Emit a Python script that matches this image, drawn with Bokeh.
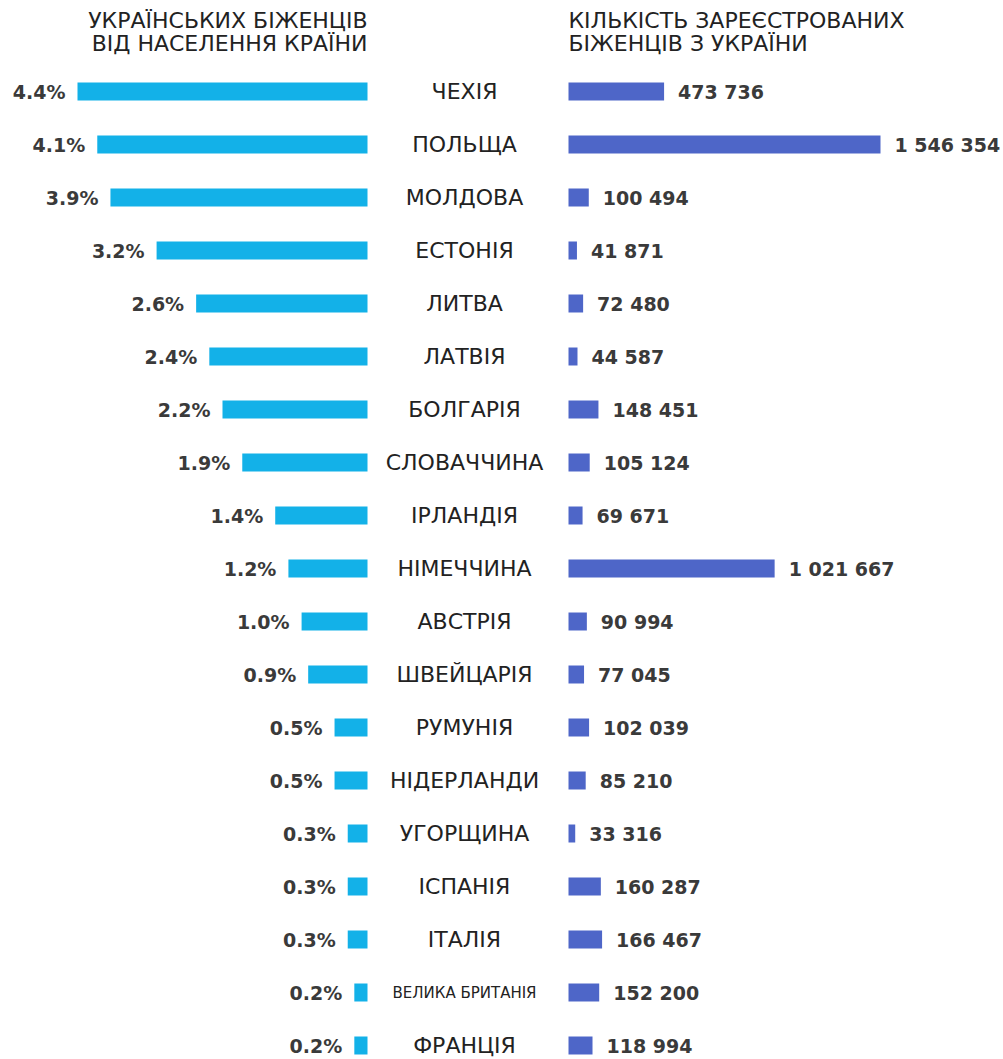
from bokeh.plotting import figure
from bokeh.models import Range1d, ColumnDataSource, Label
from bokeh.core.properties import value
from bokeh.embed import file_html
from bokeh.resources import INLINE

# ---------------- data ----------------
countries = ["ЧЕХІЯ", "ПОЛЬЩА", "МОЛДОВА", "ЕСТОНІЯ", "ЛИТВА", "ЛАТВІЯ",
             "БОЛГАРІЯ", "СЛОВАЧЧИНА", "ІРЛАНДІЯ", "НІМЕЧЧИНА", "АВСТРІЯ",
             "ШВЕЙЦАРІЯ", "РУМУНІЯ", "НІДЕРЛАНДИ", "УГОРЩИНА", "ІСПАНІЯ",
             "ІТАЛІЯ", "ВЕЛИКА БРИТАНІЯ", "ФРАНЦІЯ"]
share_pct = [4.4, 4.1, 3.9, 3.2, 2.6, 2.4, 2.2, 1.9, 1.4, 1.2, 1.0, 0.9,
             0.5, 0.5, 0.3, 0.3, 0.3, 0.2, 0.2]
share_labels = ["4.4%", "4.1%", "3.9%", "3.2%", "2.6%", "2.4%", "2.2%", "1.9%",
                "1.4%", "1.2%", "1.0%", "0.9%", "0.5%", "0.5%", "0.3%", "0.3%",
                "0.3%", "0.2%", "0.2%"]
refugees = [473736, 1546354, 100494, 41871, 72480, 44587, 148451, 105124,
            69671, 1021667, 90994, 77045, 102039, 85210, 33316, 160287,
            166467, 152200, 118994]
left_title = ["УКРАЇНСЬКИХ БІЖЕНЦІВ", "ВІД НАСЕЛЕННЯ КРАЇНИ"]
right_title = ["КІЛЬКІСТЬ ЗАРЕЄСТРОВАНИХ", "БІЖЕНЦІВ З УКРАЇНИ"]

# ---------------- layout ----------------
W, H = 1003, 1059
ROW0, STEP = 91.0, 53.0                # px of first row centre, row spacing
LEFT_ZERO, LEFT_FULL = 367.0, 77.0     # px of 0 % and of max share
RIGHT_ZERO, RIGHT_FULL = 568.0, 880.0  # px of 0 and of max count
MID_X = 464.0
BAR_PX = 18.0
TITLE_Y = (20.0, 43.0)


def lin_range(v0, p0, v1, p1, length):
    k = (v1 - v0) / (p1 - p0)
    start = v0 - p0 * k
    return start, start + length * k


ls, le = lin_range(0, LEFT_ZERO, max(share_pct), LEFT_FULL, W)
rs, re_ = lin_range(0, RIGHT_ZERO, max(refugees), RIGHT_FULL, W)
y_top = (0 - ROW0) / STEP
y_bottom = (H - ROW0) / STEP

fmt = lambda n: f"{n:,}".replace(",", " ")

src = ColumnDataSource(dict(
    y=list(range(len(countries))),
    country=countries,
    pct=share_pct,
    pct_label=share_labels,
    ref=refugees,
    ref_label=[fmt(v) for v in refugees],
    mid=[MID_X] * len(countries),
    csize=["15px" if len(c) > 12 else "22px" for c in countries],
))

p = figure(width=W, height=H, output_backend="svg", toolbar_location=None,
           x_range=Range1d(0, W), y_range=Range1d(y_bottom, y_top),
           min_border=0, title=None)
p.extra_x_ranges = {"left": Range1d(ls, le), "right": Range1d(rs, re_)}
p.xaxis.visible = False
p.yaxis.visible = False
p.grid.visible = False
p.outline_line_color = None
p.background_fill_color = "white"
p.border_fill_color = "white"

bar_h = BAR_PX / STEP
p.hbar(y="y", left=0, right="pct", height=bar_h, source=src,
       x_range_name="left", fill_color="#13B1E8", line_color=None)
p.hbar(y="y", left=0, right="ref", height=bar_h, source=src,
       x_range_name="right", fill_color="#4E66C8", line_color=None)

p.text(x="pct", y="y", text="pct_label", source=src, x_range_name="left",
       x_offset=-12, text_align="right", text_baseline="middle",
       text_font=value("DejaVu Sans"), text_font_style="bold",
       text_font_size="19px", text_color="#3a3a3a")
p.text(x="ref", y="y", text="ref_label", source=src, x_range_name="right",
       x_offset=14, text_align="left", text_baseline="middle",
       text_font=value("DejaVu Sans"), text_font_style="bold",
       text_font_size="19px", text_color="#3a3a3a")
p.text(x="mid", y="y", text="country", source=src,
       text_align="center", text_baseline="middle",
       text_font=value("DejaVu Sans"), text_font_size="csize",
       text_color="#222222")

for i, line in enumerate(left_title):
    p.add_layout(Label(x=LEFT_ZERO, y=H - TITLE_Y[i], x_units="screen",
                       y_units="screen", text=line, text_align="right",
                       text_baseline="middle", text_font="DejaVu Sans",
                       text_font_size="22px", text_color="#222222"))
for i, line in enumerate(right_title):
    p.add_layout(Label(x=RIGHT_ZERO, y=H - TITLE_Y[i], x_units="screen",
                       y_units="screen", text=line, text_align="left",
                       text_baseline="middle", text_font="DejaVu Sans",
                       text_font_size="22px", text_color="#222222"))

open("out.html", "w").write(file_html(p, INLINE))
